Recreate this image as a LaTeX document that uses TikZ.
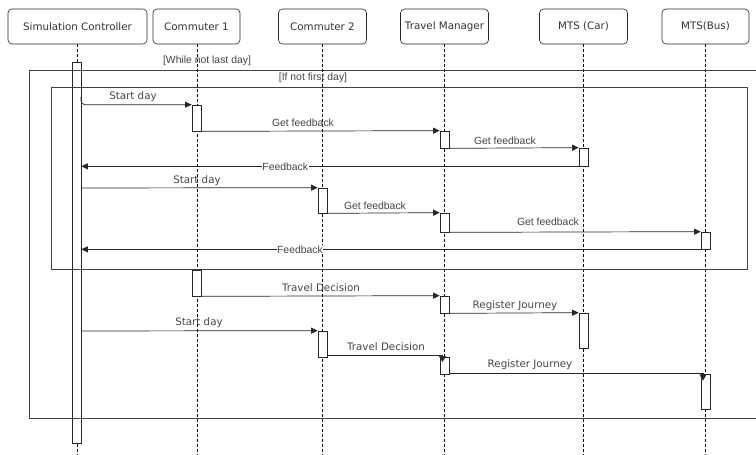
\documentclass[tikz,border=0pt]{standalone}
\usepackage{fontspec}
\setmainfont{DejaVu Sans}
\newfontfamily\arialf{Liberation Sans}
\usetikzlibrary{arrows.meta}
\definecolor{txt}{HTML}{333333}
\definecolor{lbl}{HTML}{444444}
\begin{document}
\begin{tikzpicture}[x=1pt,y=-1pt,
  hdr/.style={draw=black!85, rounded corners=4pt, minimum height=35pt, inner sep=0pt,
    font=\fontsize{10.3}{12}\selectfont, text=txt, line width=0.6pt},
  life/.style={draw=black, dash pattern=on 3pt off 2pt, line width=0.6pt},
  actbox/.style={draw=black!85, fill=white, minimum width=9pt, inner sep=0pt, line width=0.7pt},
  msg/.style={draw=black!85, line width=0.7pt, -{Triangle[length=6.5pt,width=6pt]}},
  bentmsg/.style={draw=black!85, line width=0.7pt, -{Triangle[length=6pt,width=7pt]}},
  vlbl/.style={font=\fontsize{10.3}{12}\selectfont, text=lbl, inner sep=1pt},
  albl/.style={font=\arialf\fontsize{10.4}{12}\selectfont, text=lbl, inner sep=1pt},
  frm/.style={draw=black!75, line width=0.7pt}]
\useasboundingbox (0,0) rectangle (756,455);
\clip (0,0) rectangle (756,455);
\fill[white] (0,0) rectangle (756,455);

% headers
\node[hdr, minimum width=139pt] (sc) at (77.5,26.5) {Simulation Controller};
\node[hdr, minimum width=87pt] (c1) at (196.5,26.5) {Commuter 1};
\node[hdr, minimum width=88pt] (c2) at (322.5,26.5) {Commuter 2};
\node[hdr, minimum width=88pt] (tm) at (444.5,26.5) {Travel Manager};
\node[hdr, minimum width=88pt] (car) at (583.5,26.5) {MTS (Car)};
\node[hdr, minimum width=87pt] (bus) at (705.5,26.5) {MTS(Bus)};

% lifeline ends
\coordinate (scE) at (77,455);
\coordinate (c1E) at (197,455);
\coordinate (c2E) at (322.5,455);
\coordinate (tmE) at (444.5,455);
\coordinate (carE) at (583.5,455);
\coordinate (busE) at (705.5,455);
\draw[life] (sc.south -| scE) -- (scE);
\draw[life] (c1.south -| c1E) -- (c1E);
\draw[life] (c2.south -| c2E) -- (c2E);
\draw[life] (tm.south -| tmE) -- (tmE);
\draw[life] (car.south -| carE) -- (carE);
\draw[life] (bus.south -| busE) -- (busE);

% controller activation bar
\node[actbox, minimum height=381pt] (sbar) at (76.5,252.5) {};

% frames
\draw[frm] (770,70) -- (29,70) -- (29,418) -- (770,418);
\node[frm, draw, minimum width=696pt, minimum height=182pt, inner sep=0pt] (inner) at (399,178) {};
\node[albl] (whilel) at (207,61) {[While not last day]};
\node[albl] (ifl) at (313,78) {[If not first day]};

% activation boxes
\node[actbox, minimum height=26pt] (c1a) at (196.5,118) {};
\node[actbox, minimum height=17pt] (tm1) at (444.5,139.5) {};
\node[actbox, minimum height=18pt] (car1) at (583.5,157) {};
\node[actbox, minimum height=25pt] (c2a) at (322.5,200.5) {};
\node[actbox, minimum height=19pt] (tm2) at (444.5,222.5) {};
\node[actbox, minimum height=17pt] (bus1) at (705.5,240.5) {};
\node[actbox, minimum height=26pt] (c1b) at (196.5,283) {};
\node[actbox, minimum height=17pt] (tm3) at (444.5,304.5) {};
\node[actbox, minimum height=35pt] (car2) at (583.5,330.5) {};
\node[actbox, minimum height=26pt] (c2b) at (322.5,344) {};
\node[actbox, minimum height=17pt] (tm4) at (444.5,365.5) {};
\node[actbox, minimum height=35pt] (bus2) at (705.5,391.5) {};

% messages
\coordinate (s1) at (81,97);
\draw[msg, rounded corners=4pt] (s1) |- (c1a.north west);
\node[vlbl] (l1) at (133,97) {Start day};

\draw[msg] (c1a.south east) -- (tm1.north west);
\node[albl] (l2) at (303,123) {Get feedback};

\draw[msg] (tm1.south east) -- (car1.north west);
\node[albl] (l3) at (505,141) {Get feedback};

\draw[msg] (car1.south west) -- (car1.south west -| sbar.east)
  node[albl, fill=white, inner sep=0.5pt, pos=0.59] (l4) {Feedback};

\coordinate (s2) at (81,188);
\draw[msg] (s2) -- (c2a.north west);
\node[vlbl] (l5) at (197,181) {Start day};

\draw[msg] (c2a.south east) -- (tm2.north west);
\node[albl] (l6) at (375,206) {Get feedback};

\draw[msg] (tm2.south east) -- (bus1.north west);
\node[albl] (l7) at (548,222) {Get feedback};

\draw[msg] (bus1.south west) -- (bus1.south west -| sbar.east)
  node[albl, fill=white, inner sep=0.5pt, pos=0.647] (l8) {Feedback};

\draw[msg] (c1b.south east) -- (tm3.north west);
\node[vlbl] (l9) at (321,288) {Travel Decision};

\draw[msg] (tm3.south east) -- (car2.north west);
\node[vlbl] (l10) at (515,306) {Register Journey};

\coordinate (s3) at (81,331);
\draw[msg] (s3) -- (c2b.north west);
\node[vlbl] (l11) at (199,323) {Start day};

\coordinate (td2) at (327,355.5);
\coordinate (t4) at (442.5,362);
\draw[bentmsg] (td2) -| (t4);
\node[vlbl] (l12) at (386,347) {Travel Decision};

\coordinate (rj2) at (449,373.5);
\coordinate (b2) at (703,380.5);
\draw[bentmsg] (rj2) -| (b2);
\node[vlbl] (l13) at (530,365) {Register Journey};
\end{tikzpicture}
\end{document}
